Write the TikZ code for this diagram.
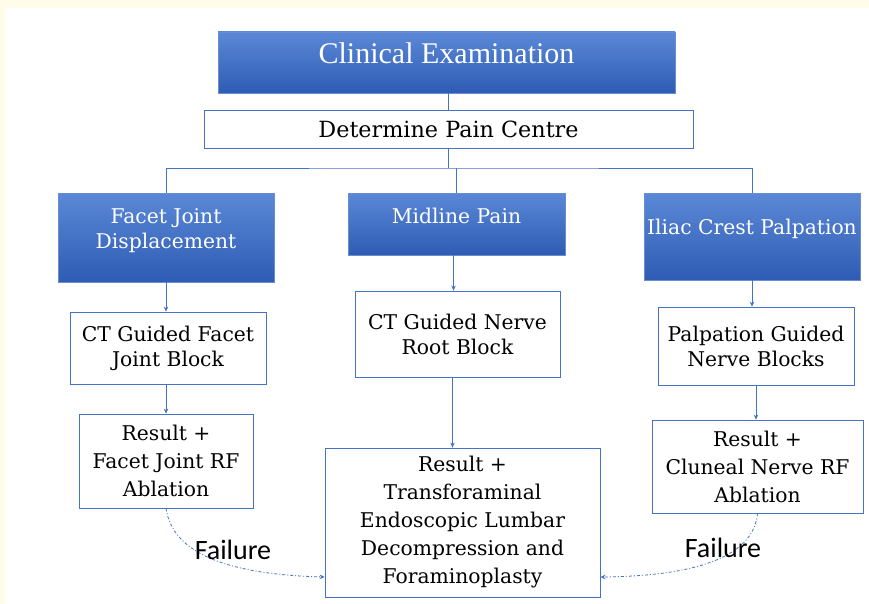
\documentclass[tikz,border=0pt]{standalone}
\usepackage{fontspec}
\setmainfont{DejaVu Serif}
\newfontfamily\timesf{Liberation Serif}
\newfontfamily\calib{Carlito}
\usetikzlibrary{arrows.meta}
\definecolor{lineblue}{HTML}{4472C4}
\definecolor{bluetop}{HTML}{5B88D6}
\definecolor{bluebot}{HTML}{2E5CB4}
\definecolor{cream}{HTML}{FFFCE9}
\tikzset{
  bluebox/.style={draw=lineblue!80, line width=0.6pt, top color=bluetop, bottom color=bluebot, inner sep=0pt},
  bluetext/.style={text=white, font=\fontsize{20.3}{25}\selectfont, align=center},
  whitebox/.style={draw=lineblue, line width=0.8pt, fill=white, inner sep=0pt, align=center, font=\fontsize{20.3}{28}\selectfont},
  conn/.style={draw=lineblue, line width=0.8pt},
  arr/.style={conn, -{Stealth[length=5pt,width=4.5pt]}},
  failarr/.style={draw=lineblue, line width=0.8pt, dash pattern=on 3pt off 2pt on 1pt off 2pt, -{Stealth[length=5pt,width=4.5pt]}},
  faillabel/.style={font=\calib\fontsize{28}{30}\selectfont, inner sep=1pt}
}
\begin{document}
\begin{tikzpicture}[x=1pt,y=-1pt]
\useasboundingbox (0,0) rectangle (869,604);
\fill[cream] (0,0) rectangle (869,604);
\fill[white] (5,8) rectangle (869,604);

% top boxes
\node[bluebox, minimum width=457pt, minimum height=61pt,
  label={[bluetext, font=\timesf\fontsize{30}{32}\selectfont, shift={(0,-9)}]center:Clinical Examination}] (ce) at (446.5,62.5) {};
\node[whitebox, minimum width=489pt, minimum height=38pt, font=\fontsize{22.3}{24}\selectfont] (dpc) at (448.5,129) {Determine Pain Centre};

% category boxes
\node[bluebox, minimum width=216pt, minimum height=89pt,
  label={[bluetext, shift={(0,-7)}]center:Facet Joint\\Displacement}] (fjd) at (166,237.5) {};
\node[bluebox, minimum width=217pt, minimum height=62pt,
  label={[bluetext, shift={(0,-8)}]center:Midline Pain}] (mp) at (456.5,224) {};
\node[bluebox, minimum width=216pt, minimum height=87pt,
  label={[bluetext, shift={(0,-7.5)}]center:Iliac Crest Palpation}] (icp) at (752,236.5) {};

% block boxes
\node[whitebox, minimum width=196pt, minimum height=72pt, font=\fontsize{20.3}{25}\selectfont] (ctfj) at (168,348) {CT Guided Facet\\Joint Block};
\node[whitebox, minimum width=205pt, minimum height=86pt, font=\fontsize{20.3}{25}\selectfont] (ctnr) at (457.5,334) {CT Guided Nerve\\Root Block};
\node[whitebox, minimum width=196pt, minimum height=78pt, font=\fontsize{20.3}{25}\selectfont] (pgnb) at (756,346) {Palpation Guided\\Nerve Blocks};

% result boxes
\node[whitebox, minimum width=174pt, minimum height=94pt] (r1) at (166,461) {Result +\\Facet Joint RF\\Ablation};
\node[whitebox, minimum width=275pt, minimum height=149pt] (r2) at (462.5,522.5) {Result +\\Transforaminal\\Endoscopic Lumbar\\Decompression and\\Foraminoplasty};
\node[whitebox, minimum width=211pt, minimum height=93pt] (r3) at (757.5,466.5) {Result +\\Cluneal Nerve RF\\Ablation};

% tree connectors
\coordinate (j) at (dpc.south |- 0,168);
\draw[conn] (dpc.north |- ce.south) -- (dpc.north);
\draw[conn] (dpc.south) -- (j);
\draw[conn] (fjd.north) |- (j) -| (icp.north);
\draw[conn] (mp.north) -- (mp.north |- j);

% arrows
\draw[arr] (fjd.south) -- (fjd.south |- ctfj.north);
\draw[arr] ([xshift=-4pt]ctnr.north |- mp.south) -- ([xshift=-4pt]ctnr.north);
\draw[arr] (icp.south) -- (icp.south |- pgnb.north);
\draw[arr] (r1.north |- ctfj.south) -- (r1.north);
\draw[arr] ([xshift=-5pt]ctnr.south) -- ([xshift=-5pt]ctnr.south |- r2.north);
\draw[arr] (pgnb.south) -- (pgnb.south |- r3.north);

% failure paths
\coordinate (e1) at (r2.west |- 0,577);
\coordinate (e3) at (r2.east |- 0,577);
\draw[failarr] (r1.south) .. controls (172,548) and (215,574) .. (e1);
\draw[failarr] (r3.south) .. controls (754,555) and (700,576) .. (e3);
\node[faillabel] (f1) at (233,550) {Failure};
\node[faillabel] (f3) at (723,548) {Failure};
\end{tikzpicture}
\end{document}
